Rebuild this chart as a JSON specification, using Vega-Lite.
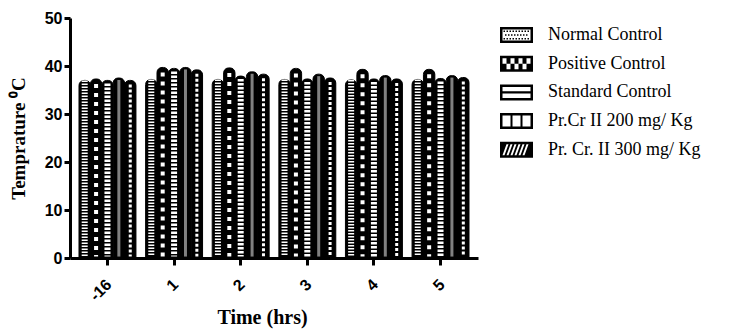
{
  "$schema": "https://vega.github.io/schema/vega-lite/v6.json",
  "width": 408,
  "height": 240,
  "autosize": {"type": "none"},
  "padding": {"left": 70, "top": 18, "right": 266, "bottom": 71},
  "background": "white",
  "config": {"view": {"stroke": null}},
  "data": {"values": [
    {"time": "-16", "group": "Normal Control", "value": 37.0},
    {"time": "-16", "group": "Positive Control", "value": 37.3},
    {"time": "-16", "group": "Standard Control", "value": 37.0},
    {"time": "-16", "group": "Pr.Cr II 200 mg/ Kg", "value": 37.5},
    {"time": "-16", "group": "Pr. Cr. II 300 mg/ Kg", "value": 37.0},
    {"time": "1", "group": "Normal Control", "value": 37.2},
    {"time": "1", "group": "Positive Control", "value": 39.7},
    {"time": "1", "group": "Standard Control", "value": 39.5},
    {"time": "1", "group": "Pr.Cr II 200 mg/ Kg", "value": 39.7},
    {"time": "1", "group": "Pr. Cr. II 300 mg/ Kg", "value": 39.2},
    {"time": "2", "group": "Normal Control", "value": 37.2},
    {"time": "2", "group": "Positive Control", "value": 39.6},
    {"time": "2", "group": "Standard Control", "value": 37.9},
    {"time": "2", "group": "Pr.Cr II 200 mg/ Kg", "value": 38.8},
    {"time": "2", "group": "Pr. Cr. II 300 mg/ Kg", "value": 38.3},
    {"time": "3", "group": "Normal Control", "value": 37.2},
    {"time": "3", "group": "Positive Control", "value": 39.5},
    {"time": "3", "group": "Standard Control", "value": 37.3},
    {"time": "3", "group": "Pr.Cr II 200 mg/ Kg", "value": 38.3},
    {"time": "3", "group": "Pr. Cr. II 300 mg/ Kg", "value": 37.5},
    {"time": "4", "group": "Normal Control", "value": 37.1},
    {"time": "4", "group": "Positive Control", "value": 39.3},
    {"time": "4", "group": "Standard Control", "value": 37.3},
    {"time": "4", "group": "Pr.Cr II 200 mg/ Kg", "value": 38.0},
    {"time": "4", "group": "Pr. Cr. II 300 mg/ Kg", "value": 37.3},
    {"time": "5", "group": "Normal Control", "value": 37.2},
    {"time": "5", "group": "Positive Control", "value": 39.3},
    {"time": "5", "group": "Standard Control", "value": 37.4},
    {"time": "5", "group": "Pr.Cr II 200 mg/ Kg", "value": 38.0},
    {"time": "5", "group": "Pr. Cr. II 300 mg/ Kg", "value": 37.6}
  ]},
  "encoding": {
    "x": {
      "field": "time", "type": "nominal", "sort": ["-16", "1", "2", "3", "4", "5"],
      "scale": {"paddingInner": 0.145, "paddingOuter": 0.135},
      "axis": {
        "title": "Time (hrs)", "titleFont": "Liberation Serif", "titleFontSize": 20, "titleFontWeight": "bold", "titleColor": "black", "titleX": 192, "titleY": 65, "titleBaseline": "alphabetic",
        "labelAngle": -45, "labelFont": "Liberation Sans", "labelFontSize": 16, "labelFontWeight": "bold", "labelColor": "black", "labelPadding": 11, "labelOffset": -4,
        "domainColor": "black", "domainWidth": 3, "tickColor": "black", "tickWidth": 3, "tickSize": 7
      }
    },
    "xOffset": {"field": "group", "type": "nominal", "sort": ["Normal Control", "Positive Control", "Standard Control", "Pr.Cr II 200 mg/ Kg", "Pr. Cr. II 300 mg/ Kg"], "scale": {"paddingInner": 0, "paddingOuter": 0}}
  },
  "layer": [
    {
      "mark": {"type": "bar", "color": "black", "stroke": "black", "strokeWidth": 1, "cornerRadiusTopLeft": 5, "cornerRadiusTopRight": 5},
      "encoding": {
        "y": {
          "field": "value", "type": "quantitative", "scale": {"domain": [0, 50], "nice": false},
          "axis": {
            "values": [0, 10, 20, 30, 40, 50], "grid": false,
            "title": "Temprature ⁰C", "titleFont": "Liberation Serif", "titleFontSize": 19, "titleFontWeight": "bold", "titleColor": "black", "titlePadding": 16,
            "labelFont": "Liberation Sans", "labelFontSize": 16, "labelFontWeight": "bold", "labelColor": "black", "labelPadding": 2,
            "domainColor": "black", "domainWidth": 3, "tickColor": "black", "tickWidth": 3, "tickSize": 6
          }
        }
      }
    },
    {
      "mark": {"type": "point", "opacity": 0, "filled": true, "color": "black"},
      "encoding": {
        "y": {"field": "value", "type": "quantitative"},
        "shape": {
          "field": "group", "type": "nominal",
          "sort": ["Normal Control", "Positive Control", "Standard Control", "Pr.Cr II 200 mg/ Kg", "Pr. Cr. II 300 mg/ Kg"],
          "scale": {"range": [
            "M-1.65,-0.8H1.65V0.8H-1.65ZM-1.4,-0.55V0.55H1.4V-0.55ZM-1.3,-0.45H-1.15V-0.3H-1.3ZM-1.0,-0.45H-0.85V-0.3H-1.0ZM-0.7,-0.45H-0.55V-0.3H-0.7ZM-0.4,-0.45H-0.25V-0.3H-0.4ZM-0.1,-0.45H0.05V-0.3H-0.1ZM0.2,-0.45H0.35V-0.3H0.2ZM0.5,-0.45H0.65V-0.3H0.5ZM0.8,-0.45H0.95V-0.3H0.8ZM1.1,-0.45H1.25V-0.3H1.1ZM-1.15,-0.08H-1.0V0.07H-1.15ZM-0.85,-0.08H-0.7V0.07H-0.85ZM-0.55,-0.08H-0.4V0.07H-0.55ZM-0.25,-0.08H-0.1V0.07H-0.25ZM0.05,-0.08H0.2V0.07H0.05ZM0.35,-0.08H0.5V0.07H0.35ZM0.65,-0.08H0.8V0.07H0.65ZM0.95,-0.08H1.1V0.07H0.95ZM-1.3,0.3H-1.15V0.45H-1.3ZM-1.0,0.3H-0.85V0.45H-1.0ZM-0.7,0.3H-0.55V0.45H-0.7ZM-0.4,0.3H-0.25V0.45H-0.4ZM-0.1,0.3H0.05V0.45H-0.1ZM0.2,0.3H0.35V0.45H0.2ZM0.5,0.3H0.65V0.45H0.5ZM0.8,0.3H0.95V0.45H0.8ZM1.1,0.3H1.25V0.45H1.1Z",
            "M-1.65,-0.8H1.65V0.8H-1.65ZM-1.4,-0.55V0H-1.0V-0.55ZM-0.6,-0.55V0H-0.2V-0.55ZM0.2,-0.55V0H0.6V-0.55ZM1.0,-0.55V0H1.4V-0.55ZM-1.0,0V0.55H-0.6V0ZM-0.2,0V0.55H0.2V0ZM0.6,0V0.55H1.0V0Z",
            "M-1.65,-0.8H1.65V0.8H-1.65ZM-1.4,-0.55V-0.12H1.4V-0.55ZM-1.4,0.12V0.55H1.4V0.12Z",
            "M-1.65,-0.8H1.65V0.8H-1.65ZM-1.4,-0.55V0.55H-0.6V-0.55ZM-0.4,-0.55V0.55H0.4V-0.55ZM0.6,-0.55V0.55H1.4V-0.55Z",
            "M-1.65,-0.8H1.65V0.8H-1.65ZM-1.0,-0.55L-1.4,0.55H-1.2L-0.8,-0.55ZM-0.6,-0.55L-1.0,0.55H-0.8L-0.4,-0.55ZM-0.2,-0.55L-0.6,0.55H-0.4L0.0,-0.55ZM0.2,-0.55L-0.2,0.55H0.0L0.4,-0.55ZM0.6,-0.55L0.2,0.55H0.4L0.8,-0.55ZM1.0,-0.55L0.6,0.55H0.8L1.2,-0.55Z"
          ]},
          "legend": {
            "title": null, "orient": "none", "legendX": 436.5, "legendY": 7,
            "symbolSize": 400, "symbolFillColor": "black", "symbolStrokeColor": "black", "symbolStrokeWidth": 0, "symbolOpacity": 1,
            "labelFont": "Liberation Serif", "labelFontSize": 18, "labelColor": "black", "labelOffset": 21.5, "rowPadding": 9.7, "labelLimit": 300
          }
        }
      }
    },
    {
      "transform": [{"filter": "datum.group == 'Normal Control'"}],
      "mark": {"type": "rule", "color": "white", "strokeWidth": 6, "strokeDash": [1.5, 1.5]},
      "encoding": {"y": {"field": "value", "type": "quantitative"}, "y2": {"datum": 0.3}}
    },
    {
      "transform": [{"filter": "datum.group == 'Positive Control'"}],
      "mark": {"type": "rule", "color": "white", "strokeWidth": 4, "strokeDash": [4, 5], "yOffset": 5},
      "encoding": {"y": {"field": "value", "type": "quantitative"}, "y2": {"datum": 0.3}}
    },
    {
      "transform": [{"filter": "datum.group == 'Standard Control'"}],
      "mark": {"type": "rule", "color": "white", "strokeWidth": 6, "strokeDash": [2.5, 1.5], "yOffset": 3},
      "encoding": {"y": {"field": "value", "type": "quantitative"}, "y2": {"datum": 0.3}}
    },
    {
      "transform": [{"filter": "datum.group == 'Pr.Cr II 200 mg/ Kg'"}],
      "mark": {"type": "rule", "color": "#808080", "strokeWidth": 3, "yOffset": 2},
      "encoding": {"y": {"field": "value", "type": "quantitative"}, "y2": {"datum": 0.3}}
    },
    {
      "transform": [{"filter": "datum.group == 'Pr. Cr. II 300 mg/ Kg'"}],
      "mark": {"type": "rule", "color": "white", "strokeWidth": 3, "strokeDash": [3, 2], "yOffset": 4},
      "encoding": {"y": {"field": "value", "type": "quantitative"}, "y2": {"datum": 0.3}}
    }
  ]
}
